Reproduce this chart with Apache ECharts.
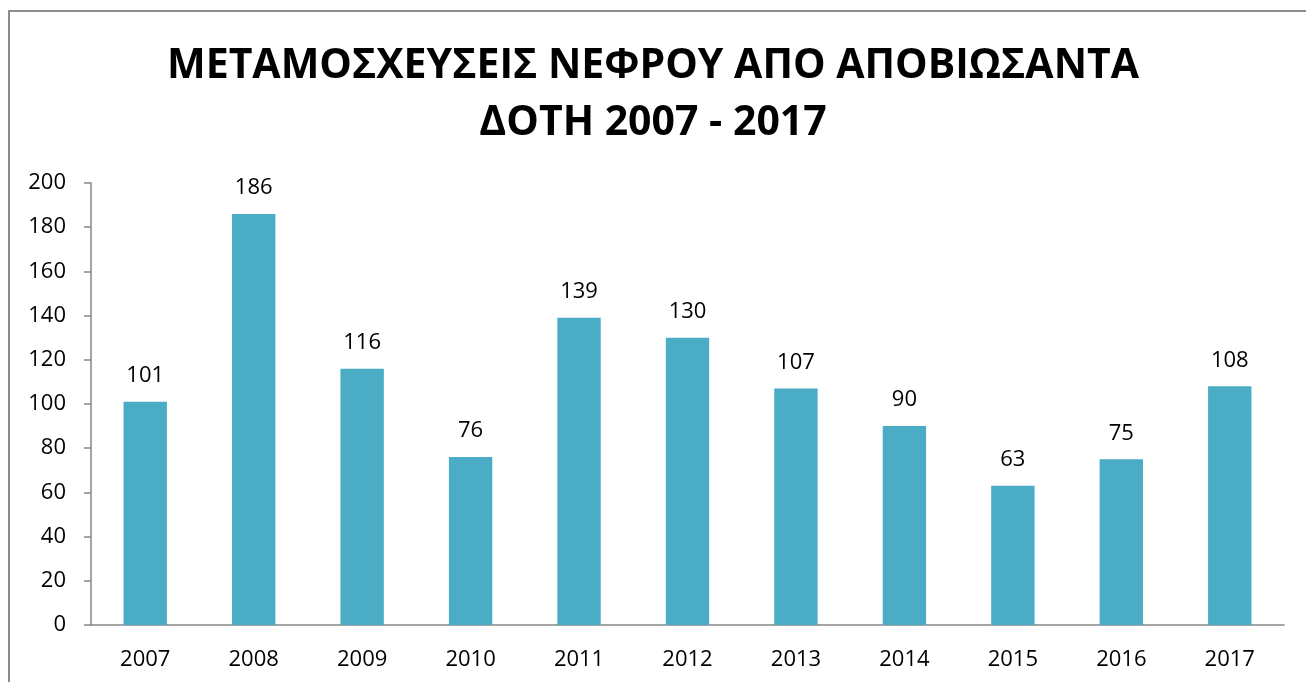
<!DOCTYPE html>
<html>
<head>
<meta charset="utf-8">
<script src="https://cdn.jsdelivr.net/npm/echarts@6/dist/echarts.min.js"></script>
<style>html,body{margin:0;padding:0;background:#fff;}#c{width:1306px;height:682px;}</style>
</head>
<body>
<div id="c"></div>
<script>
const titleLines = ['ΜΕΤΑΜΟΣΧΕΥΣΕΙΣ ΝΕΦΡΟΥ ΑΠΟ ΑΠΟΒΙΩΣΑΝΤΑ', 'ΔΟΤΗ 2007 - 2017'];
const years = ['2007','2008','2009','2010','2011','2012','2013','2014','2015','2016','2017'];
const transplants = [101,186,116,76,139,130,107,90,63,75,108];

const font = 'Open Sans';
const axisColor = '#868686';
const chart = echarts.init(document.getElementById('c'));
chart.setOption({
  backgroundColor: '#fff',
  animation: false,
  graphic: [{
    type: 'rect', shape: {x: 9, y: 11, width: 1400, height: 800},
    style: {fill: 'none', stroke: '#8c8c8c', lineWidth: 2}
  }],
  title: {
    text: titleLines.join('\n'),
    left: 'center', top: 33,
    textStyle: {fontFamily: font, fontWeight: 'bold', fontSize: 41, lineHeight: 57, color: '#000'}
  },
  grid: {left: 91, right: 22, top: 183, bottom: 57},
  xAxis: {
    type: 'category', data: years,
    axisLine: {lineStyle: {color: axisColor, width: 1.5}},
    axisTick: {length: 7, lineStyle: {color: axisColor, width: 1.5}},
    axisLabel: {fontFamily: font, fontSize: 22, color: '#000', margin: 24}
  },
  yAxis: {
    type: 'value', min: 0, max: 200, interval: 20,
    splitLine: {show: false},
    axisLine: {show: true, lineStyle: {color: axisColor, width: 1.5}},
    axisTick: {show: true, length: 7, lineStyle: {color: axisColor, width: 1.5}},
    axisLabel: {fontFamily: font, fontSize: 22, color: '#000', margin: 25}
  },
  series: [{
    type: 'bar', data: transplants, barWidth: '40%',
    itemStyle: {color: '#4BACC6'},
    label: {show: true, position: 'top', distance: 15, fontFamily: font, fontSize: 22, color: '#000'}
  }]
});
</script>
</body>
</html>
